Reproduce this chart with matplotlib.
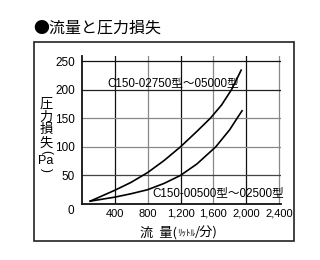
import matplotlib
matplotlib.use("Agg")
import matplotlib.pyplot as plt
from matplotlib.patches import Rectangle

# ---- data ----
title = "●流量と圧力損失"
ylabel_chars = ["圧", "力", "損", "失", "(", "Pa", ")"]
xlabel_main = "流  量("
xlabel_small = "ﾘｯﾄﾙ"
xlabel_tail = "/分)"
x_ticks = [400, 800, 1200, 1600, 2000, 2400]
x_ticklabels = ["400", "800", "1,200", "1,600", "2,000", "2,400"]
y_ticks = [50, 100, 150, 200, 250]
y_ticklabels = ["50", "100", "150", "200", "250"]

upper_name = "C150-02750型～05000型"
upper_flow = [100, 400, 600, 800, 1000, 1200, 1400, 1564, 1700, 1822, 1939]
upper_loss = [5, 24, 38, 55, 76, 100, 127, 150, 173, 200, 234]

lower_name = "C150-00500型～02500型"
lower_flow = [100, 400, 600, 800, 1000, 1200, 1400, 1630, 1800, 1890, 1950]
lower_loss = [5, 12, 18, 25, 36, 50, 70, 100, 130, 150, 163]

NUM_FONT = ["Liberation Sans", "DejaVu Sans"]
MIX_FONT = ["Liberation Sans", "Noto Sans CJK JP", "DejaVu Sans"]
CJK_FONT = ["Noto Sans CJK JP", "DejaVu Sans"]

W, H = 320, 260
fig = plt.figure(figsize=(W / 100, H / 100), dpi=100)

def fx(px):
    return px / W

def fy(py):
    return 1 - py / H

# outer frame
fig.patches.append(Rectangle((fx(34), fy(241)), fx(294) - fx(34), fy(42) - fy(241),
                             transform=fig.transFigure, fill=False,
                             edgecolor="#222222", linewidth=1.2))

# axes: x 0 at px 82, 2400 at px 279 ; y 0 at px 204, 250 at px 61
xmax, ymax = 2430, 258
ppx = (279 - 82) / 2400
ppy = (204 - 61) / 250
ax_left, ax_bottom = 82, 204
ax_w = xmax * ppx
ax_h = ymax * ppy
ax = fig.add_axes([fx(ax_left), fy(ax_bottom), fx(ax_w), ax_h / H])
ax.set_xlim(0, xmax)
ax.set_ylim(0, ymax)
for s in ["top", "right"]:
    ax.spines[s].set_visible(False)
for s in ["left", "bottom"]:
    ax.spines[s].set_linewidth(1.3)
    ax.spines[s].set_color("#111111")
ax.patch.set_alpha(0)

vcol = {400: "#111111", 800: "#888888", 1200: "#111111", 1600: "#888888",
        2000: "#111111", 2400: "#888888"}
hcol = {50: "#444444", 100: "#888888", 150: "#888888", 200: "#222222", 250: "#111111"}
for v in x_ticks:
    ax.axvline(v, color=vcol[v], lw=0.9, zorder=1)
for v in y_ticks:
    ax.axhline(v, color=hcol[v], lw=0.9, zorder=1)

ax.plot(upper_flow, upper_loss, color="black", lw=1.2, zorder=3)
ax.plot(lower_flow, lower_loss, color="black", lw=1.2, zorder=3)

ax.text(305, 211, upper_name, fontsize=8.4, family=MIX_FONT, va="center", ha="left", zorder=4)
ax.text(860, 19, lower_name, fontsize=8.4, family=MIX_FONT, va="center", ha="left", zorder=4)

ax.set_xticks(x_ticks)
ax.set_xticklabels(x_ticklabels, family=NUM_FONT, fontsize=8)
ax.set_yticks(y_ticks)
ax.set_yticklabels(y_ticklabels, family=NUM_FONT, fontsize=8.5)
ax.tick_params(length=0)
ax.tick_params(axis="x", pad=3.5)
ax.tick_params(axis="y", pad=5)
ax.annotate("0", xy=(0, 0), xytext=(-8, -5), textcoords="offset points",
            ha="center", va="center", family=NUM_FONT, fontsize=8.5)

# title
fig.text(fx(33), fy(28), title, family=CJK_FONT, fontsize=11.5, va="center", ha="left")

# vertical y label
ypos = [104, 117, 130, 143, 152, 161, 170]
for ch, yp in zip(ylabel_chars, ypos):
    if ch in "()":
        fig.text(fx(46), fy(yp), ch, family=NUM_FONT, fontsize=8.5, rotation=-90,
                 ha="center", va="center")
    elif ch == "Pa":
        fig.text(fx(46), fy(yp), ch, family=NUM_FONT, fontsize=9, ha="center", va="center")
    else:
        fig.text(fx(46), fy(yp), ch, family=CJK_FONT, fontsize=9.5, ha="center", va="center")

# x label
t1 = fig.text(fx(140), fy(233), xlabel_main, family=CJK_FONT, fontsize=9.5,
              ha="left", va="center")
a1 = ax.annotate(xlabel_small, xy=(1, 0.5), xycoords=t1, ha="left", va="center",
                 family=CJK_FONT, fontsize=6.5, annotation_clip=False)
a2 = ax.annotate(xlabel_tail, xy=(1, 0.5), xycoords=a1, ha="left", va="center",
                 family=CJK_FONT, fontsize=9.5, annotation_clip=False)

fig.savefig("out.png", dpi=100)
